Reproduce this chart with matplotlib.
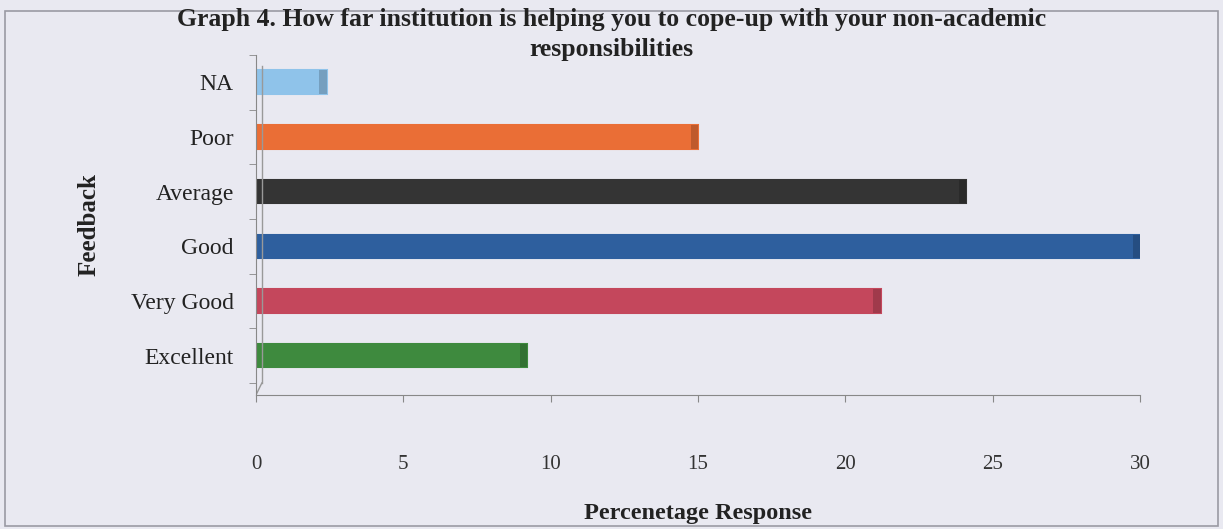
import matplotlib.pyplot as plt
from matplotlib.patches import Rectangle

categories = ['Excellent', 'Very Good', 'Good', 'Average', 'Poor', 'NA']
values = [9.2, 21.2, 30.0, 24.1, 15.0, 2.4]
colors = ['#3e8a3e', '#c4475c', '#2e5f9e', '#343434', '#ea6e36', '#8fc3ea']
xticks = [0, 5, 10, 15, 20, 25, 30]

plt.rcParams['font.family'] = ['Liberation Serif', 'DejaVu Serif']

bg = '#e9e9f1'
fig = plt.figure(figsize=(12.23, 5.29), dpi=100, facecolor=bg)
# outer frame
fig.patches.append(Rectangle((0.004, 0.006), 0.992, 0.974, transform=fig.transFigure,
                             fill=False, edgecolor='#9a9aa4', linewidth=1.2))

ax = fig.add_axes([0.2093, 0.2533, 0.7228, 0.643])
ax.set_facecolor(bg)
ypos = list(range(len(categories)))
ax.barh(ypos, values, height=0.43, color=colors, edgecolor=colors, linewidth=1.5)
# darker end face for a slight 3D look
for y, v, c in zip(ypos, values, colors):
    ax.barh(y, 0.25, left=v - 0.25, height=0.43, color='black', alpha=0.18, linewidth=0)

ax.set_xlim(0, 30)
ax.set_ylim(-0.72, 5.5)
ax.set_xticks(xticks)
ax.set_xticklabels([str(t) for t in xticks], fontsize=15, color='#333333')
ax.set_yticks(ypos)
ax.set_yticklabels(categories, fontsize=17, color='#222222')
ax.set_yticks([y - 0.5 for y in ypos] + [5.5], minor=True)
ax.tick_params(axis='y', which='major', length=0, pad=16)
ax.tick_params(axis='y', which='minor', length=5, color='#888888')
ax.tick_params(axis='x', length=5, color='#888888', pad=38)
for s in ['top', 'right']:
    ax.spines[s].set_visible(False)
ax.spines['left'].set_color('#888888')
ax.spines['bottom'].set_color('#888888')
# back wall line
ax.plot([0.2, 0.2], [-0.5, 5.3], color='#999999', linewidth=1)
ax.plot([0, 0.2], [-0.72, -0.5], color='#999999', linewidth=1)

ax.set_xlabel('Percenetage Response', fontsize=17.5, fontweight='bold', labelpad=21, color='#222222')
ax.set_ylabel('Feedback', fontsize=18, fontweight='bold', labelpad=22, color='#222222')

fig.text(0.5, 0.963, 'Graph 4. How far institution is helping you to cope-up with your non-academic',
         ha='center', va='center', fontsize=18.5, fontweight='bold', color='#222222')
fig.text(0.5, 0.907, 'responsibilities', ha='center', va='center', fontsize=18.5,
         fontweight='bold', color='#222222')

fig.savefig('out.png', dpi=100, facecolor=bg)
